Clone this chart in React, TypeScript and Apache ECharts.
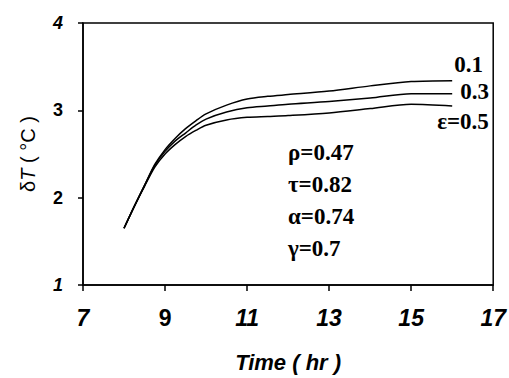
import React, { useEffect, useRef } from "react";
import * as echarts from "echarts";

const times = [8, 8.25, 8.5, 8.75, 9, 9.25, 9.5, 9.75, 10, 10.5, 11, 11.5, 12, 13, 14, 15, 16];
const eps01 = [1.65, 1.9, 2.14, 2.38, 2.55, 2.68, 2.79, 2.88, 2.96, 3.06, 3.13, 3.16, 3.18, 3.22, 3.28, 3.33, 3.34];
const eps03 = [1.65, 1.9, 2.14, 2.37, 2.53, 2.65, 2.74, 2.83, 2.9, 2.98, 3.03, 3.05, 3.07, 3.1, 3.14, 3.19, 3.19];
const eps05 = [1.65, 1.9, 2.13, 2.35, 2.5, 2.61, 2.7, 2.77, 2.83, 2.89, 2.92, 2.93, 2.94, 2.97, 3.02, 3.07, 3.05];
const seriesNames = ["0.1", "0.3", "ε=0.5"];
const paramLines = ["ρ=0.47", "τ=0.82", "α=0.74", "γ=0.7"];
const xItalic = [7, 11, 13, 15, 17];
const yItalic = [1, 4];

export default function App() {
  const ref = useRef<HTMLDivElement>(null);
  useEffect(() => {
    const chart = echarts.init(ref.current!, null, { renderer: "svg" });
    const mk = (arr: number[]) => times.map((t, i) => [t, arr[i]]);
    const all = [eps01, eps03, eps05];
    const labelOffsets = [[-6, -16], [0, -2], [-23, 16]];
    const sans = "Liberation Sans";
    chart.setOption({
      animation: false,
      backgroundColor: "#fff",
      grid: { left: 83, right: 9, top: 23, bottom: 89, show: true, borderColor: "#000", borderWidth: 1.5 },
      xAxis: {
        type: "value",
        min: 7,
        max: 17,
        interval: 2,
        name: "Time ( hr )",
        nameLocation: "middle",
        nameGap: 66,
        nameTextStyle: { fontFamily: sans, fontWeight: "bold", fontStyle: "italic", fontSize: 22, color: "#000" },
        axisLine: { lineStyle: { color: "#000", width: 1.5 } },
        axisTick: { show: true, length: 6, lineStyle: { color: "#000", width: 1.5 } },
        splitLine: { show: false },
        axisLabel: {
          margin: 21,
          formatter: (v: number) => (xItalic.includes(v) ? `{i|${v}}` : `{n|${v}}`),
          rich: {
            i: { fontFamily: sans, fontWeight: "bold", fontStyle: "italic", fontSize: 23, color: "#000" },
            n: { fontFamily: sans, fontWeight: "bold", fontSize: 23, color: "#000" },
          },
        },
      },
      yAxis: {
        type: "value",
        min: 1,
        max: 4,
        interval: 1,
        name: "δ{i|T} ( °C )",
        nameLocation: "middle",
        nameGap: 45,
        nameRotate: 90,
        nameTextStyle: {
          fontFamily: sans,
          fontSize: 20,
          color: "#000",
          rich: { i: { fontFamily: sans, fontStyle: "italic", fontSize: 20, color: "#000" } },
        },
        axisLine: { show: true, lineStyle: { color: "#000", width: 1.5 } },
        axisTick: { show: true, length: 5, lineStyle: { color: "#000", width: 1.5 } },
        splitLine: { show: false },
        axisLabel: {
          margin: 20,
          formatter: (v: number) => (yItalic.includes(v) ? `{i|${v}}` : `{n|${v}}`),
          rich: {
            i: { fontFamily: sans, fontWeight: "bold", fontStyle: "italic", fontSize: 18, color: "#000" },
            n: { fontFamily: sans, fontWeight: "bold", fontSize: 18, color: "#000" },
          },
        },
      },
      series: [
        ...all.map((arr, k) => ({
          type: "line",
          name: seriesNames[k],
          data: mk(arr),
          smooth: 0.3,
          showSymbol: false,
          lineStyle: { color: "#000", width: 1.5 },
          endLabel: {
            show: true,
            formatter: seriesNames[k],
            offset: labelOffsets[k],
            fontFamily: "Liberation Serif",
            fontWeight: "bold",
            fontSize: 23,
            color: "#000",
          },
        })),
      ],
      graphic: paramLines.map((t, i) => ({
        type: "text",
        left: 328 - 40,
        top: 141 + i * 32,
        style: {
          text: t,
          fontFamily: "Liberation Serif",
          fontWeight: "bold",
          fontSize: 23,
          fill: "#000",
          width: 80,
          align: "center",
        },
      })),
    });
    return () => chart.dispose();
  }, []);
  return <div ref={ref} style={{ position: "fixed", left: 0, top: 0, width: 509, height: 378 }} />;
}
